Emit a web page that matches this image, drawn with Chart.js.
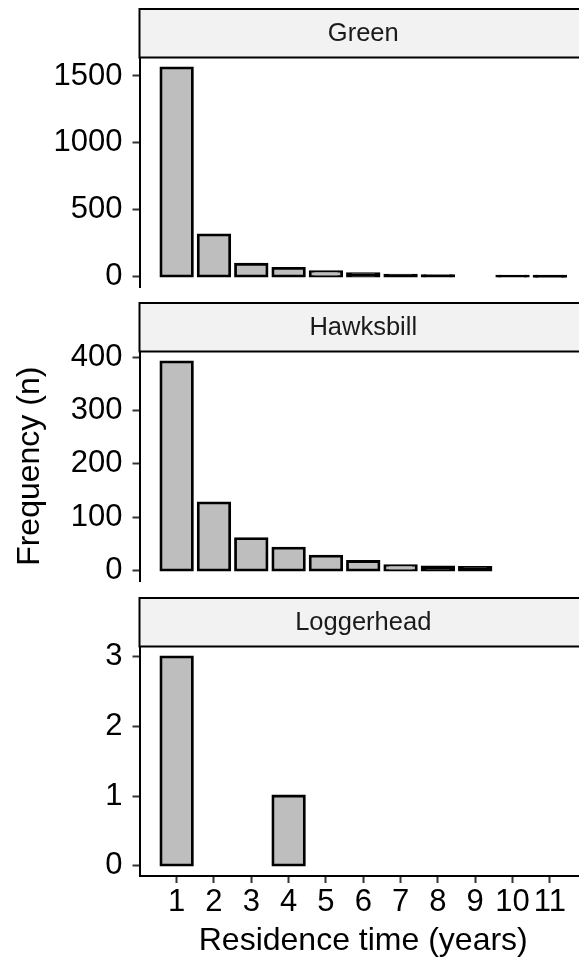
<!DOCTYPE html>
<html>
<head>
<meta charset="utf-8">
<title>Residence time</title>
<script src="https://cdn.jsdelivr.net/npm/chart.js@4.4.1/dist/chart.umd.min.js"></script>
<style>
    html, body { margin: 0; padding: 0; background: #fff; overflow: hidden; }
    #wrap { position: relative; width: 579px; height: 963px; overflow: hidden; }
    #wrap canvas { position: absolute; left: 0; }
</style>
</head>
<body>
<div id="wrap">
    <canvas id="chart-green" width="587" height="294" style="top:0px"></canvas>
    <canvas id="chart-hawksbill" width="587" height="294" style="top:294px"></canvas>
    <canvas id="chart-loggerhead" width="587" height="374" style="top:589px"></canvas>
</div>
<script>
// Residence time classes (years)
const residenceYears = [1, 2, 3, 4, 5, 6, 7, 8, 9, 10, 11];

// Number of turtles per residence time, by species (null = no bar)
const greenCounts = [1560, 312, 92, 62, 36, 22, 10, 7, null, 3, 2];
const hawksbillCounts = [391, 127, 60, 42, 27, 17, 9, 7, 6, null, null];
const loggerheadCounts = [3, null, null, 1, null, null, null, null, null, null, null];

const speciesNames = ['Green', 'Hawksbill', 'Loggerhead'];

// Y tick labels for each panel
const greenTicks = [0, 500, 1000, 1500];
const hawksbillTicks = [0, 100, 200, 300, 400];
const loggerheadTicks = [0, 1, 2, 3];

const fontFamily = '"Liberation Sans", Arial, Helvetica, sans-serif';
const barGrey = '#bebebe';
const barBorder = 2.8;

Chart.defaults.font.family = fontFamily;
Chart.defaults.color = '#000';

// grey facet strip with black outline above each panel
const stripPlugin = {
    id: 'strip',
    afterDraw(chart, args, opts) {
        const { ctx, chartArea } = chart;
        const top = opts.top;
        const w = chartArea.right - chartArea.left;
        const h = chartArea.top - top;
        ctx.save();
        ctx.fillStyle = '#f2f2f2';
        ctx.fillRect(chartArea.left, top, w, h);
        ctx.strokeStyle = '#000';
        ctx.lineWidth = 2;
        ctx.strokeRect(chartArea.left, top, w, h);
        ctx.fillStyle = '#1a1a1a';
        ctx.font = '25.5px ' + fontFamily;
        ctx.textAlign = 'center';
        ctx.textBaseline = 'middle';
        ctx.fillText(opts.text, chartArea.left + w / 2, top + h / 2 + 1);
        ctx.restore();
    }
};

// very short bars end up as a solid black line
function barFill(context) {
    const v = context.parsed ? context.parsed.y : null;
    if (v === null || v === undefined) return barGrey;
    const y = context.chart.scales.y;
    const h = Math.abs(y.getPixelForValue(0) - y.getPixelForValue(v));
    return h < barBorder * 1.4 ? '#000' : barGrey;
}

// no extra room for labels at the axis ends, the panels keep their size
function noLabelPadding(scale) {
    scale.paddingTop = 0;
    scale.paddingBottom = 0;
    scale.paddingLeft = 0;
    scale.paddingRight = 0;
}

function buildChart(canvasId, name, counts, tickValues, opts) {
    const maxCount = Math.max(...counts.filter(v => v !== null));

    const config = {
        type: 'bar',
        data: {
            datasets: [{
                label: name,
                data: residenceYears.map((year, i) => ({ x: year, y: counts[i] })),
                backgroundColor: barFill,
                borderColor: '#000',
                borderWidth: barBorder,
                borderSkipped: false,
                inflateAmount: barBorder / 2,
                barPercentage: 0.845,
                categoryPercentage: 1
            }]
        },
        options: {
            responsive: false,
            animation: false,
            events: [],
            layout: {
                padding: { top: 57.5, bottom: opts.bottomPad, left: 0, right: 0 }
            },
            plugins: {
                legend: { display: false },
                tooltip: { enabled: false },
                strip: { text: name, top: opts.stripTop }
            },
            scales: {
                x: {
                    type: 'linear',
                    offset: false,
                    min: 0.005,
                    max: 11.995,
                    display: opts.showX,
                    grid: {
                        offset: false,
                        drawOnChartArea: false,
                        drawTicks: true,
                        tickLength: 7,
                        tickWidth: 2,
                        tickColor: '#333'
                    },
                    border: { display: true, color: '#000', width: 2 },
                    ticks: {
                        autoSkip: false,
                        maxRotation: 0,
                        minRotation: 0,
                        padding: 1,
                        color: '#000',
                        font: { size: 31 },
                        callback: value => String(value)
                    },
                    title: {
                        display: opts.showX,
                        text: 'Residence time (years)',
                        color: '#000',
                        font: { size: 32, lineHeight: 1.2 },
                        padding: { top: 0, bottom: 3 }
                    },
                    afterBuildTicks: scale => {
                        scale.ticks = residenceYears.map(v => ({ value: v }));
                    },
                    afterFit: scale => {
                        noLabelPadding(scale);
                        if (opts.showX) scale.height = 87;
                    }
                },
                y: {
                    min: -0.05 * maxCount,
                    max: 1.05 * maxCount,
                    grid: {
                        drawOnChartArea: false,
                        drawTicks: true,
                        tickLength: 7,
                        tickWidth: 2,
                        tickColor: '#333'
                    },
                    border: { display: true, color: '#000', width: 2 },
                    ticks: {
                        padding: 10,
                        color: '#000',
                        font: { size: 31 },
                        callback: value => String(value)
                    },
                    title: {
                        display: opts.showY,
                        text: 'Frequency (n)',
                        color: '#000',
                        font: { size: 32, lineHeight: 1.2 },
                        padding: { top: 11, bottom: 0 }
                    },
                    afterBuildTicks: scale => {
                        scale.ticks = tickValues.map(v => ({ value: v }));
                    },
                    afterFit: scale => {
                        noLabelPadding(scale);
                        scale.width = 139.5;
                    }
                }
            }
        },
        plugins: [stripPlugin]
    };

    return new Chart(document.getElementById(canvasId), config);
}

buildChart('chart-green', speciesNames[0], greenCounts, greenTicks,
    { stripTop: 9, bottomPad: 7, showX: false, showY: false });
buildChart('chart-hawksbill', speciesNames[1], hawksbillCounts, hawksbillTicks,
    { stripTop: 9, bottomPad: 7, showX: false, showY: true });
buildChart('chart-loggerhead', speciesNames[2], loggerheadCounts, loggerheadTicks,
    { stripTop: 9, bottomPad: 0, showX: true, showY: false });
</script>
</body>
</html>
